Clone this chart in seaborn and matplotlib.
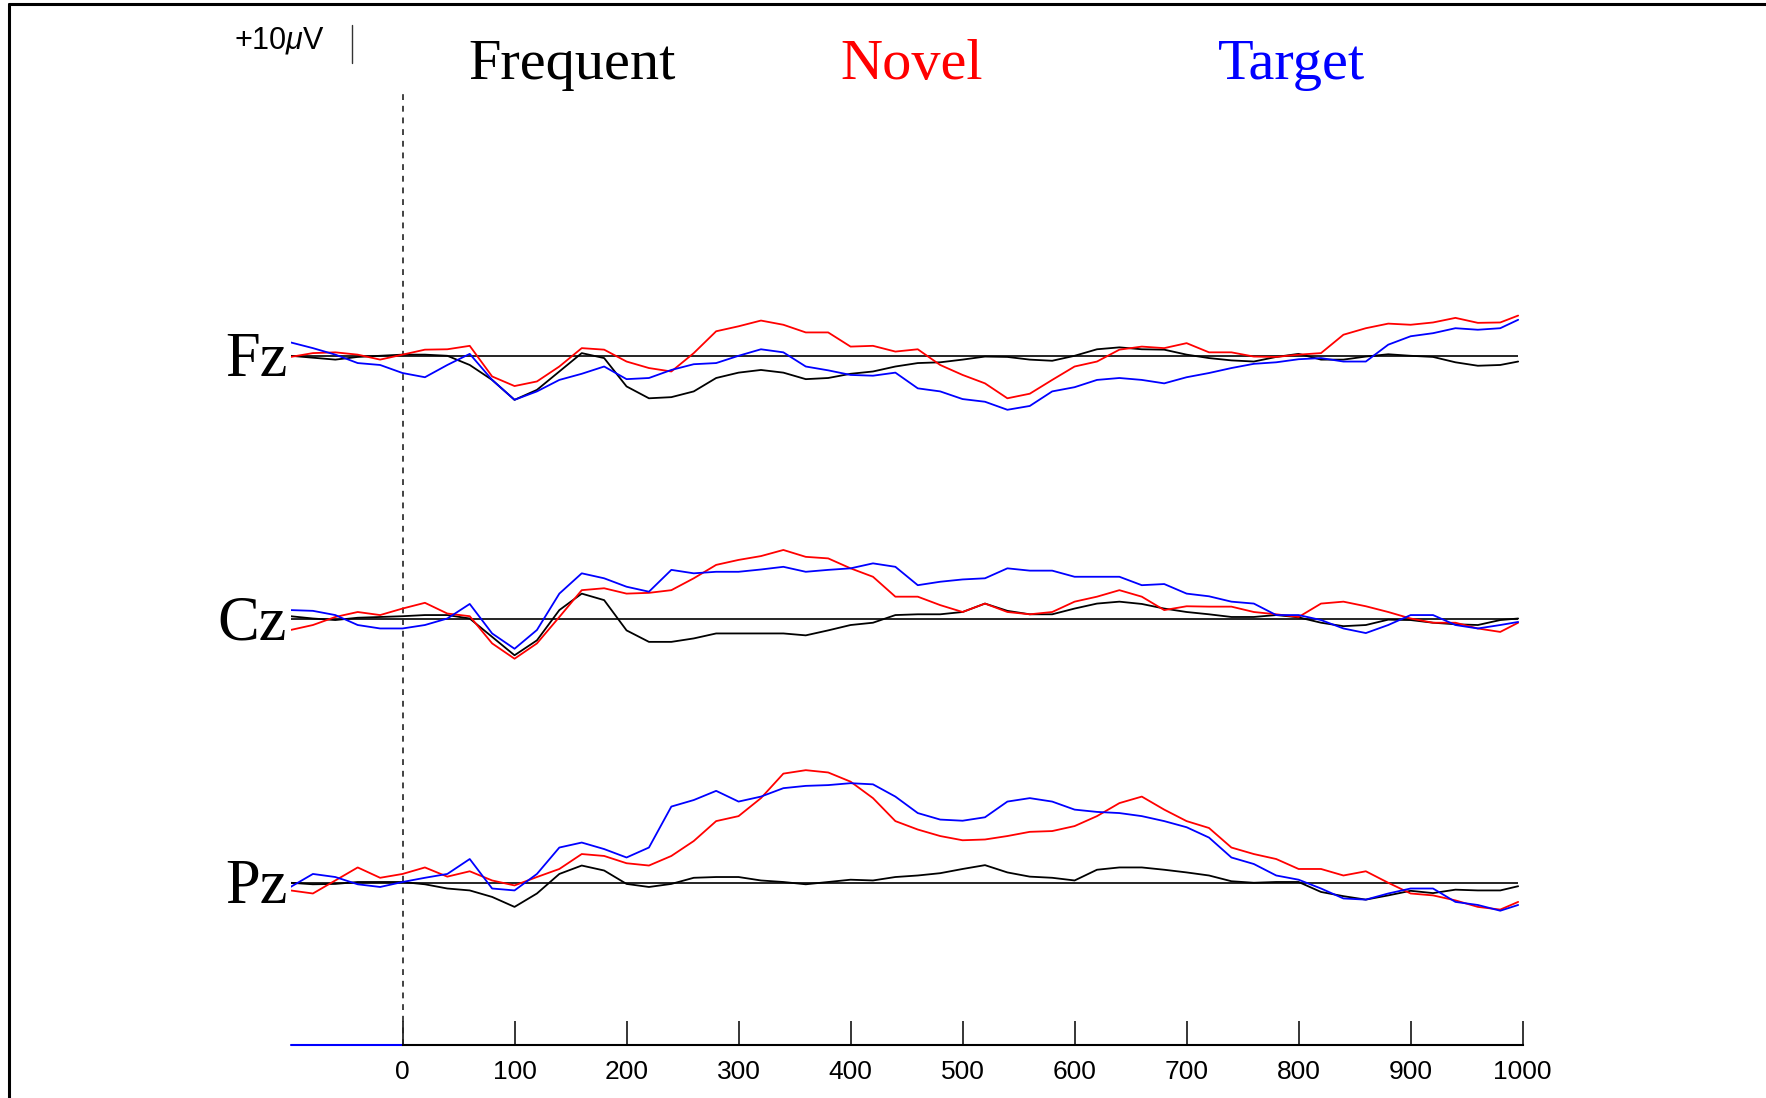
import matplotlib
matplotlib.use("Agg")
import numpy as np
import pandas as pd
import matplotlib.pyplot as plt
from matplotlib.lines import Line2D
import seaborn as sns

# sampling grid of the read-off values (ms)
time_ms = list(range(-100, 1000, 20)) + [996]

channels = ["Fz", "Cz", "Pz"]
conditions = ["Frequent", "Novel", "Target"]
colors = {"Frequent": "#000000", "Novel": "#ff0000", "Target": "#0000ff"}

# amplitudes in microvolts, positive up
fz_frequent = [0, -0.5, -1, -0.3, 0, 0.3, 0.3, 0, -2.4, -6.3,
               -11.5, -8.9, -4.1, 0.7, -0.6, -8, -11.1, -10.8, -9.3, -5.8,
               -4.4, -3.7, -4.4, -6.1, -5.8, -4.7, -4.1, -2.8, -1.9, -1.7,
               -1.0, -0.2, -0.3, -1.0, -1.3, 0, 1.7, 2.2, 1.7, 1.6,
               0.3, -0.6, -1.2, -1.5, -0.3, 0.5, -1.0, -1.0, -0.2, 0.4,
               0, -0.3, -1.7, -2.6, -2.4, -1.5]
fz_novel = [-0.3, 0.7, 0.9, 0.3, -1.0, 0.3, 1.6, 1.7, 2.6, -5.4,
            -7.9, -6.7, -2.8, 2.0, 1.6, -1.5, -3.2, -4.1, 0.7, 6.4,
            7.7, 9.2, 8.1, 6.1, 6.1, 2.4, 2.6, 1.1, 1.7, -2.4,
            -5.0, -7.2, -11.1, -9.9, -6.3, -2.8, -1.5, 1.6, 2.4, 2.0,
            3.3, 0.9, 0.9, -0.2, -0.3, 0.3, 0.7, 5.5, 7.2, 8.4,
            8.1, 8.7, 9.9, 8.6, 8.7, 10.5]
fz_target = [3.5, 2.0, 0.3, -1.9, -2.4, -4.5, -5.6, -2.4, 0.5, -6.3,
             -11.5, -9.3, -6.3, -4.7, -2.8, -6.1, -5.8, -3.7, -2.2, -1.9,
             0.0, 1.7, 0.9, -2.8, -3.8, -5.0, -5.2, -4.4, -8.5, -9.3,
             -11.3, -12.0, -14.1, -13.1, -9.3, -8.2, -6.3, -5.8, -6.3, -7.2,
             -5.6, -4.5, -3.2, -2.1, -1.7, -0.9, -0.6, -1.5, -1.5, 2.9,
             5.1, 5.9, 7.2, 6.8, 7.2, 9.4]

cz_frequent = [0.6, 0, -0.4, 0.2, 0.4, 0.6, 0.9, 0.9, 0, -4.8,
               -9.6, -5.7, 2.2, 6.5, 4.8, -3.1, -6.1, -6.1, -5.2, -3.9,
               -3.9, -3.9, -3.9, -4.4, -3.1, -1.7, -1.1, 0.9, 1.1, 1.1,
               1.7, 3.9, 2.0, 1.1, 1.1, 2.6, 3.9, 4.4, 3.8, 2.6,
               1.7, 1.1, 0.4, 0.4, 0.9, 0.3, -1.1, -2.0, -1.7, -0.3,
               -0.4, -1.1, -1.5, -1.7, -0.4, 0]
cz_novel = [-3.0, -1.7, 0.4, 1.7, 0.9, 2.6, 4.1, 1.3, 0.6, -6.5,
            -10.5, -6.5, 0.4, 7.4, 7.9, 6.5, 6.7, 7.4, 10.5, 14.0,
            15.3, 16.3, 17.9, 16.1, 15.7, 13.1, 10.9, 5.7, 5.7, 3.5,
            1.7, 3.9, 1.7, 1.1, 1.7, 4.4, 5.7, 7.4, 5.7, 2.2,
            3.2, 3.1, 3.1, 1.7, 1.1, 0.4, 3.9, 4.4, 3.2, 1.7,
            0, -1.1, -1.1, -2.6, -3.5, -1.1]
cz_target = [2.2, 2.0, 0.9, -1.7, -2.6, -2.6, -1.7, 0, 3.8, -3.9,
             -7.9, -3.0, 6.5, 11.8, 10.5, 8.3, 7.0, 12.7, 11.8, 12.2,
             12.2, 12.8, 13.5, 12.2, 12.7, 13.1, 14.4, 13.5, 8.7, 9.6,
             10.2, 10.5, 13.1, 12.5, 12.5, 10.9, 10.9, 10.9, 8.7, 9.0,
             6.5, 5.8, 4.4, 3.9, 0.9, 0.9, -0.4, -2.6, -3.8, -1.7,
             0.9, 0.9, -1.7, -2.6, -1.7, -0.9]

pz_frequent = [0, -0.4, -0.3, 0.2, 0.2, 0.2, -0.4, -1.5, -2.0, -3.7,
               -6.3, -2.8, 2.3, 4.5, 3.2, -0.3, -1.1, -0.3, 1.3, 1.5,
               1.5, 0.6, 0.2, -0.4, 0.2, 0.8, 0.6, 1.5, 1.9, 2.5,
               3.6, 4.6, 2.7, 1.6, 1.3, 0.6, 3.4, 4.0, 4.0, 3.4,
               2.7, 1.9, 0.4, 0, 0.2, 0.2, -2.4, -3.5, -4.4, -3.3,
               -2.1, -2.7, -1.8, -2.0, -2.0, -0.9]
pz_novel = [-2.0, -2.8, 0.6, 4.0, 1.3, 2.3, 4.0, 1.6, 3.0, 0.6,
            -0.7, 1.5, 3.6, 7.5, 7.0, 5.1, 4.5, 7.0, 10.9, 16.1,
            17.4, 22.1, 28.5, 29.4, 28.8, 26.4, 22.1, 16.1, 13.9, 12.2,
            11.1, 11.3, 12.2, 13.3, 13.5, 14.8, 17.4, 20.8, 22.5, 19.1,
            16.1, 14.3, 9.2, 7.5, 6.2, 3.6, 3.6, 1.9, 3.0, 0,
            -2.8, -3.3, -4.6, -6.3, -7.0, -5.0]
pz_target = [-1.1, 2.3, 1.5, -0.4, -1.1, 0.2, 1.3, 2.3, 6.2, -1.5,
             -2.0, 2.3, 9.2, 10.5, 8.8, 6.6, 9.2, 19.9, 21.6, 24.0,
             21.2, 22.5, 24.7, 25.3, 25.5, 26.0, 25.7, 22.5, 18.2, 16.5,
             16.2, 17.1, 21.2, 22.1, 21.2, 19.1, 18.5, 18.2, 17.4, 16.1,
             14.5, 11.8, 6.6, 4.9, 1.9, 0.8, -1.5, -4.1, -4.4, -2.8,
             -1.5, -1.5, -5.0, -5.8, -7.3, -5.8]

waves = {
    ("Fz", "Frequent"): fz_frequent, ("Fz", "Novel"): fz_novel, ("Fz", "Target"): fz_target,
    ("Cz", "Frequent"): cz_frequent, ("Cz", "Novel"): cz_novel, ("Cz", "Target"): cz_target,
    ("Pz", "Frequent"): pz_frequent, ("Pz", "Novel"): pz_novel, ("Pz", "Target"): pz_target,
}

# vertical stacking of the channels (µV)
offset = {"Fz": 0.0, "Cz": -68.6, "Pz": -137.6}
axis_y = -180.0
scale_uv = 10
tick_ms = list(range(0, 1001, 100))

rows = []
for (ch, cond), vals in waves.items():
    for t, v in zip(time_ms, vals):
        rows.append({"channel": ch, "condition": cond, "time": t, "y": v + offset[ch]})
df = pd.DataFrame(rows)

sns.set_style("white")
plt.rcParams["font.family"] = ["Liberation Sans", "DejaVu Sans"]
plt.rcParams["mathtext.fontset"] = "custom"
plt.rcParams["mathtext.rm"] = "Liberation Sans"
plt.rcParams["mathtext.it"] = "Liberation Sans:italic"
plt.rcParams["text.color"] = "black"

fig = plt.figure(figsize=(17.66, 10.98), dpi=100)
ax = fig.add_axes([0.1645, 0.0, 0.6977, 1.0])
ax.set_xlim(-100, 1000)
ax.set_ylim(-193.8, 92.9)

# channel baselines
ax.hlines([offset[c] for c in channels], -100, 996, color="black", lw=1.2, zorder=1)

sns.lineplot(data=df, x="time", y="y", hue="condition", units="channel",
             estimator=None, palette=colors, hue_order=conditions,
             linewidth=1.3, legend=False, sort=False, ax=ax, zorder=2)

# stimulus onset
ax.vlines(0, axis_y, 68.8, color="#222222", lw=1.2, linestyles=(0, (3.5, 3.5)), zorder=1)

# scale bar
ax.plot([-45, -45], [76.5, 76.5 + scale_uv], color="#333333", lw=1.0)

# time axis
for s in ["left", "right", "top"]:
    ax.spines[s].set_visible(False)
ax.spines["bottom"].set_position(("data", axis_y))
ax.spines["bottom"].set_bounds(0, 1000)
ax.spines["bottom"].set_linewidth(1.5)
ax.spines["bottom"].set_color("black")
ax.plot([-100, 0], [axis_y, axis_y], color="#0000ff", lw=1.5, clip_on=False)
ax.set_xticks(tick_ms)
ax.set_xticklabels([str(t) for t in tick_ms])
ax.tick_params(axis="x", bottom=True, direction="in", length=17, width=1.1, pad=11,
               labelsize=19, colors="black")
ax.set_yticks([])
ax.set_xlabel("")
ax.set_ylabel("")

for ch in channels:
    ax.text(-103, offset[ch] - 5.4, ch, ha="right", va="baseline",
            family="Liberation Serif", fontsize=45, color="black")

title_x = {"Frequent": 0.324, "Novel": 0.516, "Target": 0.7315}
for cond in conditions:
    fig.text(title_x[cond], 0.928, cond, ha="center", va="baseline",
             family="Liberation Serif", fontsize=42, color=colors[cond])

fig.text(0.1327, 0.956, r"+10$\mu$V", ha="left", va="baseline", fontsize=22,
         color="black")

# frame edges
fig.add_artist(Line2D([0.0051, 0.0051], [0, 0.996], color="black", lw=2.2))
fig.add_artist(Line2D([0.0051, 1.0], [0.996, 0.996], color="black", lw=2.2))

fig.savefig("out.png", dpi=100)
